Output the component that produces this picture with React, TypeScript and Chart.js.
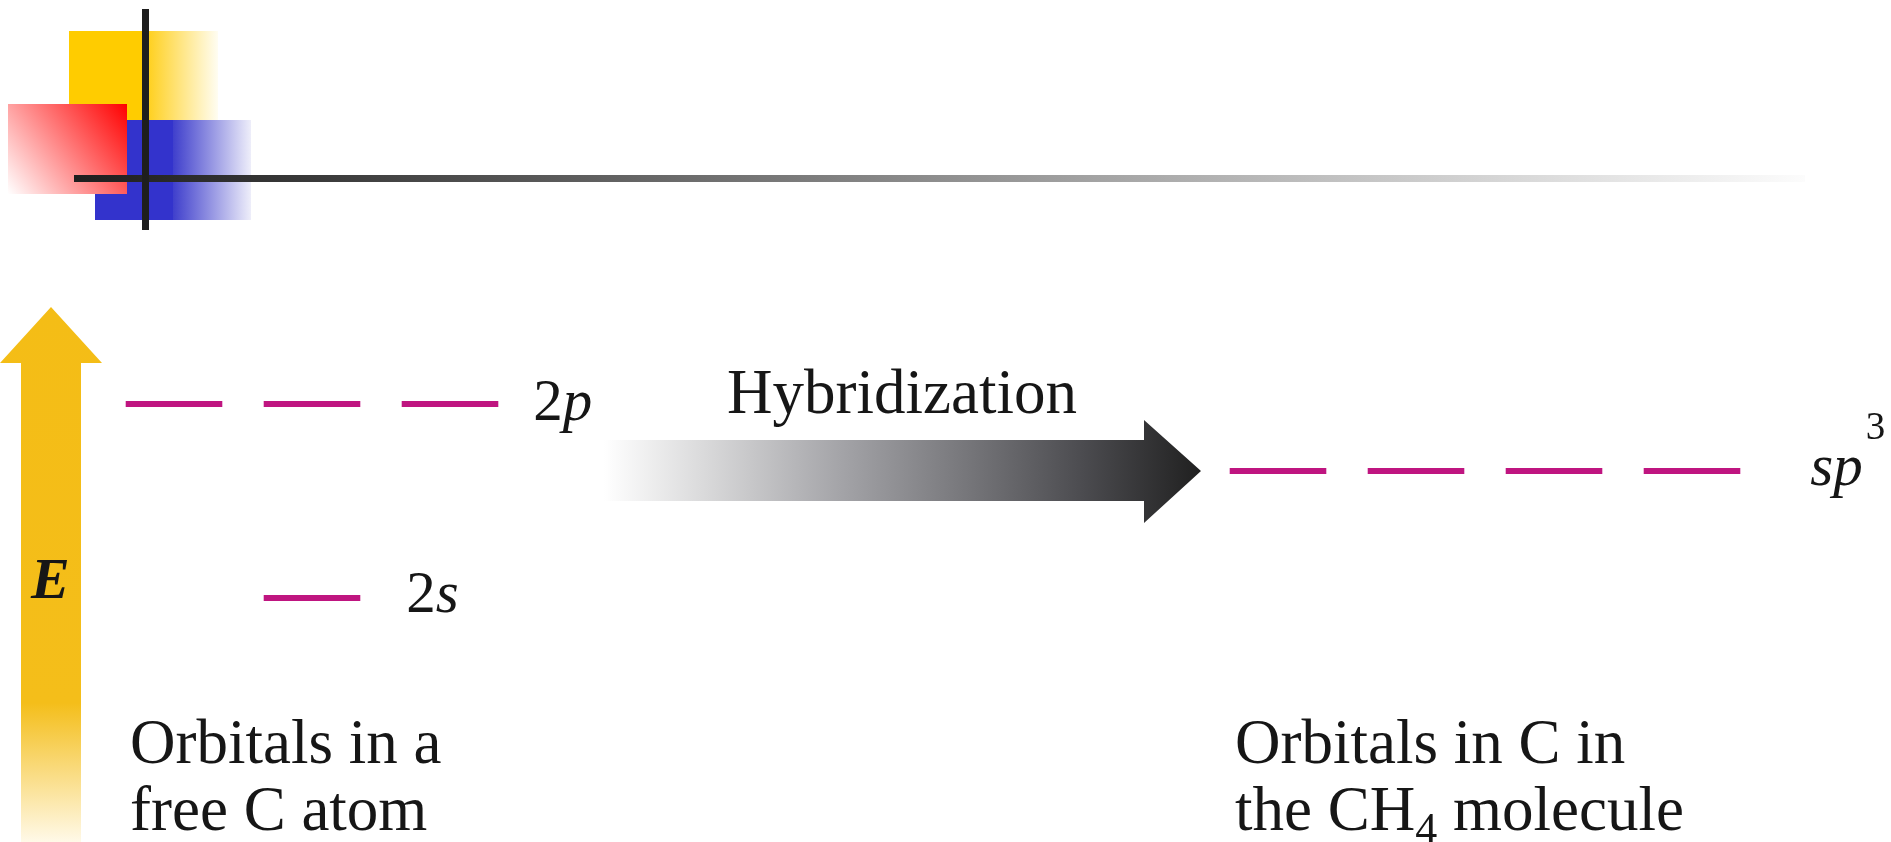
import React, { useEffect, useRef } from 'react';
import { Chart, registerables } from 'chart.js';

Chart.register(...registerables);

const W = 1891;
const H = 842;

// Orbital energy levels (energy in arbitrary units, slot = horizontal box index)
const freeAtomOrbitals = ['2s', '2p', '2p', '2p'];
const freeAtomSlots = [1, 0, 1, 2];
const freeAtomEnergies = [0, 10, 10, 10];

const hybridOrbitals = ['sp3', 'sp3', 'sp3', 'sp3'];
const hybridSlots = [8, 9, 10, 11];
const hybridEnergies = [6.55, 6.55, 6.55, 6.55];

// Level labels: [main text, superscript], anchored at right end of the last box
const levelLabelMain = ['2s', '2p', 'sp'];
const levelLabelSup = ['', '', '3'];
const levelLabelSlots = [1, 2, 11];
const levelLabelEnergies = [0, 10, 6.55];

const arrowLabel = 'Hybridization';
const axisLabel = 'E';
const leftCaption = ['Orbitals in a', 'free C atom'];
const rightCaption = ['Orbitals in C in', 'the CH', '4', ' molecule'];

const X_MIN = -1.2609;
const X_MAX = 12.442;
const Y_MIN = -12.577;
const Y_MAX = 30.825;
const HALF = 0.35;

const SERIF = "'Liberation Serif', 'Times New Roman', serif";
const TEXT = '#161616';
const MAGENTA = '#BF1580';

function drawDecorations(chart: any) {
  const ctx = chart.ctx as CanvasRenderingContext2D;
  ctx.save();
  let g: CanvasGradient;
  // logo: yellow square
  ctx.fillStyle = '#FFCC00';
  ctx.fillRect(69, 31, 79, 89);
  g = ctx.createLinearGradient(148, 0, 218, 0);
  g.addColorStop(0, '#FFD01F');
  g.addColorStop(1, '#FFFDF2');
  ctx.fillStyle = g;
  ctx.fillRect(148, 31, 70, 89);
  // blue square
  ctx.fillStyle = '#3333CC';
  ctx.fillRect(95, 120, 78, 100);
  g = ctx.createLinearGradient(173, 0, 251, 0);
  g.addColorStop(0, '#3F3FCC');
  g.addColorStop(1, '#EEEEFA');
  ctx.fillStyle = g;
  ctx.fillRect(173, 120, 78, 100);
  // red square
  g = ctx.createLinearGradient(127, 104, 8, 194);
  g.addColorStop(0, '#FF0000');
  g.addColorStop(1, '#FFFFFF');
  ctx.fillStyle = g;
  ctx.fillRect(8, 104, 119, 90);
  // horizontal rule
  g = ctx.createLinearGradient(74, 0, 1805, 0);
  g.addColorStop(0, '#1E1E1E');
  g.addColorStop(0.14, '#3A3A3A');
  g.addColorStop(0.59, '#A3A3A3');
  g.addColorStop(1, '#FCFCFC');
  ctx.fillStyle = g;
  ctx.fillRect(74, 175, 1731, 7);
  // vertical rule
  ctx.fillStyle = '#1E1E1E';
  ctx.fillRect(142, 9, 7, 221);

  // yellow energy arrow
  g = ctx.createLinearGradient(0, 307, 0, 842);
  g.addColorStop(0, '#F4BD16');
  g.addColorStop(0.74, '#F4BE1A');
  g.addColorStop(1, '#FFF9E8');
  ctx.fillStyle = g;
  ctx.beginPath();
  ctx.moveTo(51, 307);
  ctx.lineTo(102, 363);
  ctx.lineTo(81, 363);
  ctx.lineTo(81, 842);
  ctx.lineTo(21, 842);
  ctx.lineTo(21, 363);
  ctx.lineTo(0, 363);
  ctx.closePath();
  ctx.fill();

  // hybridization arrow
  g = ctx.createLinearGradient(604, 0, 1201, 0);
  g.addColorStop(0, '#FFFFFF');
  g.addColorStop(0.17, '#D9D9DA');
  g.addColorStop(0.4, '#A3A3A7');
  g.addColorStop(0.6, '#78787C');
  g.addColorStop(0.8, '#4C4C50');
  g.addColorStop(1, '#202020');
  ctx.fillStyle = g;
  ctx.beginPath();
  ctx.moveTo(604, 440);
  ctx.lineTo(1144, 440);
  ctx.lineTo(1144, 420);
  ctx.lineTo(1201, 471);
  ctx.lineTo(1144, 523);
  ctx.lineTo(1144, 501);
  ctx.lineTo(604, 501);
  ctx.closePath();
  ctx.fill();
  ctx.restore();
}

function drawTexts(chart: any) {
  const ctx = chart.ctx as CanvasRenderingContext2D;
  const xs = chart.scales.x;
  const ys = chart.scales.y;
  ctx.save();
  ctx.fillStyle = TEXT;
  ctx.textBaseline = 'alphabetic';
  ctx.textAlign = 'left';

  const labelGap = [46, 35, 70];
  const baseOff = [14, 16, 14];
  levelLabelMain.forEach((txt, i) => {
    let x = xs.getPixelForValue(levelLabelSlots[i] + HALF) + labelGap[i];
    const y = ys.getPixelForValue(levelLabelEnergies[i]) + baseOff[i];
    for (const ch of txt) {
      const isDigit = /[0-9]/.test(ch);
      ctx.font = (isDigit ? '' : 'italic ') + '59px ' + SERIF;
      ctx.fillText(ch, x, y);
      x += ctx.measureText(ch).width;
    }
    if (levelLabelSup[i]) {
      ctx.font = '39px ' + SERIF;
      ctx.fillText(levelLabelSup[i], x + 3, y - 46);
    }
  });

  // E
  ctx.font = 'italic bold 58px ' + SERIF;
  ctx.fillText(axisLabel, 31, 598);

  // Hybridization
  ctx.font = '63px ' + SERIF;
  ctx.textAlign = 'center';
  ctx.fillText(arrowLabel, 902, 413);
  ctx.textAlign = 'left';

  // captions
  ctx.font = '63px ' + SERIF;
  ctx.fillText(leftCaption[0], 130, 763);
  ctx.fillText(leftCaption[1], 130, 830);
  ctx.fillText(rightCaption[0], 1235, 763);
  let x = 1235;
  ctx.fillText(rightCaption[1], x, 830);
  x += ctx.measureText(rightCaption[1]).width;
  ctx.font = '44px ' + SERIF;
  ctx.fillText(rightCaption[2], x, 843);
  x += ctx.measureText(rightCaption[2]).width;
  ctx.font = '63px ' + SERIF;
  ctx.fillText(rightCaption[3], x, 830);
  ctx.restore();
}

const diagramPlugin = {
  id: 'hybridDiagram',
  beforeDatasetsDraw(chart: any) {
    drawDecorations(chart);
  },
  afterDatasetsDraw(chart: any) {
    drawTexts(chart);
  },
};

function levelDataset(name: string, slot: number, energy: number) {
  return {
    label: name,
    data: [
      { x: slot - HALF, y: energy },
      { x: slot + HALF, y: energy },
    ],
    showLine: true,
    borderColor: MAGENTA,
    backgroundColor: MAGENTA,
    borderWidth: 6,
    borderCapStyle: 'butt' as const,
    pointRadius: 0,
    pointHoverRadius: 0,
    fill: false,
  };
}

export default function App() {
  const ref = useRef<HTMLCanvasElement | null>(null);
  useEffect(() => {
    if (!ref.current) return;
    const datasets = [
      ...freeAtomOrbitals.map((n, i) => levelDataset(n, freeAtomSlots[i], freeAtomEnergies[i])),
      ...hybridOrbitals.map((n, i) => levelDataset(n, hybridSlots[i], hybridEnergies[i])),
    ];
    const chart = new Chart(ref.current, {
      type: 'scatter',
      data: { datasets },
      options: {
        animation: false,
        responsive: false,
        maintainAspectRatio: false,
        devicePixelRatio: 1,
        layout: { padding: 0 },
        events: [],
        scales: {
          x: { type: 'linear', min: X_MIN, max: X_MAX, display: false },
          y: { type: 'linear', min: Y_MIN, max: Y_MAX, display: false },
        },
        plugins: {
          legend: { display: false },
          tooltip: { enabled: false },
          title: { display: false },
        },
      },
      plugins: [diagramPlugin],
    } as any);
    return () => chart.destroy();
  }, []);
  return (
    <div style={{ position: 'fixed', left: 0, top: 0, width: W, height: H, background: '#ffffff' }}>
      <canvas ref={ref} width={W} height={H} style={{ display: 'block', width: W, height: H }} />
    </div>
  );
}
